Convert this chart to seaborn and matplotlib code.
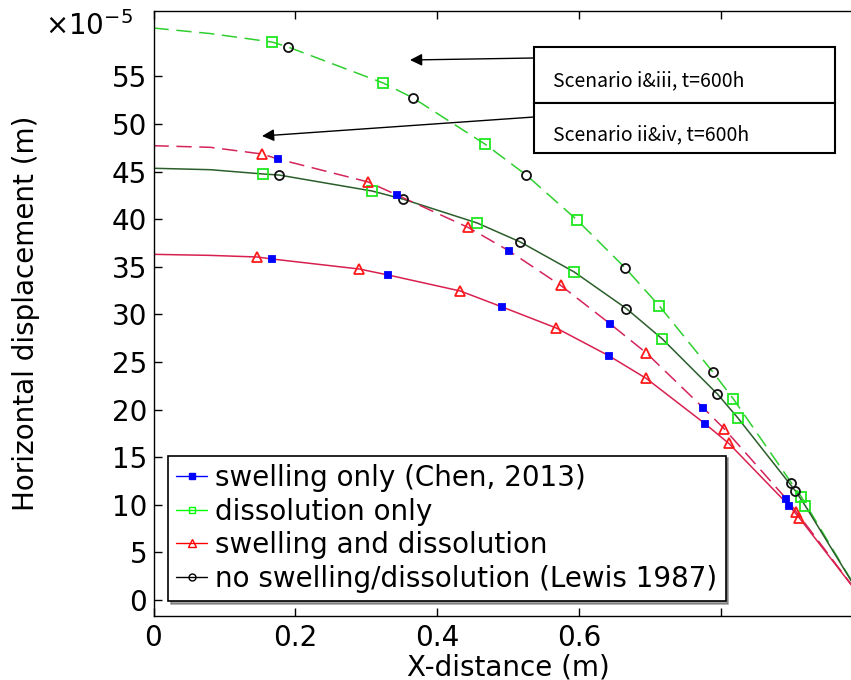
import matplotlib
matplotlib.use("Agg")
import matplotlib.pyplot as plt
from matplotlib.lines import Line2D
from matplotlib.patches import Rectangle
import numpy as np
import pandas as pd
import seaborn as sns

# ---------------- data (vertical values in units of 1e-5 m) ----------------
# Curve A: dashed, upper (dissolution only / no swelling)  -> Scenario i&iii
a_end_x = [0.0, 0.08, 1.0]
a_end_y = [60.08, 59.5, 0.0]
a_sq_x = [0.1671, 0.3237, 0.467, 0.5969, 0.7130, 0.8174, 0.9133]
a_sq_y = [58.61, 54.31, 47.90, 39.92, 30.88, 21.11, 10.82]
a_ci_x = [0.1897, 0.3660, 0.5254, 0.6650, 0.7884, 0.8992]
a_ci_y = [58.09, 52.73, 44.64, 34.87, 23.95, 12.29]

# Curve B: solid, dissolution only / no swelling
b_end_x = [0.0, 0.08, 1.0]
b_end_y = [45.35, 45.2, 0.0]
b_sq_x = [0.1544, 0.3082, 0.4563, 0.5931, 0.7172, 0.8237, 0.9189]
b_sq_y = [44.75, 42.96, 39.60, 34.45, 27.42, 19.12, 9.87]
b_ci_x = [0.1770, 0.3512, 0.5169, 0.6664, 0.7948, 0.9048]
b_ci_y = [44.64, 42.12, 37.61, 30.62, 21.64, 11.45]

# Curve C: dashed, swelling only / swelling and dissolution -> Scenario ii&iv
c_end_x = [0.0, 0.08, 1.0]
c_end_y = [47.72, 47.55, 0.0]
c_tr_x = [0.1530, 0.3025, 0.4436, 0.5740, 0.6946, 0.8047, 0.9062]
c_tr_y = [46.85, 43.91, 39.13, 33.04, 25.95, 17.96, 9.24]
c_bs_x = [0.1756, 0.3434, 0.5014, 0.6439, 0.7750, 0.8921]
c_bs_y = [46.32, 42.54, 36.66, 28.99, 20.17, 10.61]

# Curve D: solid, swelling only / swelling and dissolution
d_end_x = [0.0, 0.08, 1.0]
d_end_y = [36.31, 36.2, 0.0]
d_tr_x = [0.1460, 0.2898, 0.4323, 0.5677, 0.6946, 0.8110, 0.9104]
d_tr_y = [36.03, 34.77, 32.46, 28.57, 23.27, 16.44, 8.61]
d_bs_x = [0.1671, 0.3307, 0.4915, 0.6424, 0.7778, 0.8963]
d_bs_y = [35.82, 34.14, 30.78, 25.63, 18.49, 9.87]

legend_labels = ["swelling only (Chen, 2013)", "dissolution only",
                 "swelling and dissolution", "no swelling/dissolution (Lewis 1987)"]
x_ticks = [0.0, 0.2, 0.4, 0.6, 0.8, 1.0]
x_ticklabels = ["0", "0.2", "0.4", "0.6", "", ""]
y_ticks = [0, 5, 10, 15, 20, 25, 30, 35, 40, 45, 50, 55]
scenario_labels = ["Scenario i&iii, t=600h", "Scenario ii&iv, t=600h"]

# ---------------- style ----------------
sns.set_style("ticks")
plt.rcParams.update({
    "font.family": ["DejaVu Sans"],
    "axes.edgecolor": "black",
    "xtick.color": "black",
    "ytick.color": "black",
    "text.color": "black",
    "axes.labelcolor": "black",
    "axes.linewidth": 1.0,
})

GREEN_M = "#1fe81f"
BLUE_M = "#0000ff"
RED_M = "#ff1a1a"
BLACK_M = "#111111"

fig = plt.figure(figsize=(8.51, 6.8), dpi=100)
ax = fig.add_axes([153.5 / 851, (680 - 616) / 680, 709.5 / 851, 605 / 680])


def curve_df(*pairs):
    xs, ys = [], []
    for xx, yy in pairs:
        xs += list(xx)
        ys += list(yy)
    return pd.DataFrame({"x": xs, "y": ys}).sort_values("x")


lines = [
    (curve_df((a_end_x, a_end_y), (a_sq_x, a_sq_y), (a_ci_x, a_ci_y)), "#2fcf2f", (10, 5)),
    (curve_df((b_end_x, b_end_y), (b_sq_x, b_sq_y), (b_ci_x, b_ci_y)), "#2b5e2b", None),
    (curve_df((c_end_x, c_end_y), (c_tr_x, c_tr_y), (c_bs_x, c_bs_y)), "#d4245a", (10, 5)),
    (curve_df((d_end_x, d_end_y), (d_tr_x, d_tr_y), (d_bs_x, d_bs_y)), "#d8204f", None),
]
for df, col, dash in lines:
    kw = dict(x="x", y="y", data=df, color=col, linewidth=1.1, sort=True,
              estimator=None, ax=ax, legend=False)
    if dash is not None:
        kw["dashes"] = False
        kw["linestyle"] = (0, dash)
    sns.lineplot(**kw)


def markers(xs, ys, marker, color, ms, filled):
    sns.lineplot(x=xs, y=ys, ax=ax, linestyle="", marker=marker,
                 markersize=ms, markerfacecolor=(color if filled else "none"),
                 markeredgecolor=color, markeredgewidth=1.3, color=color,
                 estimator=None, sort=False, legend=False)


markers(a_sq_x, a_sq_y, "s", GREEN_M, 6.5, False)
markers(b_sq_x, b_sq_y, "s", GREEN_M, 6.5, False)
markers(a_ci_x, a_ci_y, "o", BLACK_M, 6.5, False)
markers(b_ci_x, b_ci_y, "o", BLACK_M, 6.5, False)
markers(c_tr_x, c_tr_y, "^", RED_M, 7.5, False)
markers(d_tr_x, d_tr_y, "^", RED_M, 7.5, False)
markers(c_bs_x, c_bs_y, "s", BLUE_M, 5, True)
markers(d_bs_x, d_bs_y, "s", BLUE_M, 5, True)

ax.set_xlim(0, 1.0)
ax.set_ylim(-1.68, 61.87)
ax.set_xticks(x_ticks)
ax.set_xticklabels(x_ticklabels)
ax.set_yticks(y_ticks)
ax.set_yticklabels([str(v) for v in y_ticks])
ax.tick_params(direction="in", length=6, width=1, top=True, right=True, labelsize=20)
ax.tick_params(axis="x", pad=6)
ax.tick_params(axis="y", pad=4.5)
for s in ax.spines.values():
    s.set_visible(True)
    s.set_color("black")

ax.set_xlabel("X-distance (m)", fontsize=20)
ax.set_ylabel("Horizontal displacement (m)", fontsize=20)
ax.xaxis.set_label_coords(0.5, -0.062)
ax.yaxis.set_label_coords(-0.160, 0.5)

fig.text(45 / 851, 1 - 35 / 680, r"$\times10^{-5}$", fontsize=20, ha="left", va="baseline")

handles = [
    Line2D([], [], color=BLUE_M, lw=1, marker="s", ms=4, mfc=BLUE_M, mec=BLUE_M),
    Line2D([], [], color="#00ff00", lw=1, marker="s", ms=5, mfc="none", mec="#00ff00", mew=1),
    Line2D([], [], color="#ff0000", lw=1, marker="^", ms=6, mfc="none", mec="#ff0000", mew=1),
    Line2D([], [], color="black", lw=1, marker="o", ms=5, mfc="none", mec="black", mew=1),
]
leg = ax.legend(handles, legend_labels, loc="lower left",
                bbox_to_anchor=((168 - 153.5) / 709.5, (616 - 601) / 605),
                borderaxespad=0, fontsize=20, frameon=True, fancybox=False,
                shadow=True, edgecolor="black", framealpha=1,
                handlelength=1.1, handletextpad=0.3, labelspacing=0.2,
                borderpad=0.3)
leg.get_frame().set_linewidth(1.2)

# Scenario boxes
for (y0, y1), lab, ty in zip([(47, 103), (103, 153)], scenario_labels, [80.5, 134.5]):
    fig.add_artist(Rectangle((534 / 851, 1 - y1 / 680), (835 - 534) / 851, (y1 - y0) / 680,
                             transform=fig.transFigure, facecolor="white",
                             edgecolor="black", lw=1.5, zorder=5))
    fig.text(553 / 851, 1 - ty / 680, lab, fontsize=14, ha="left", va="center",
             family=["Noto Sans CJK SC", "DejaVu Sans"], zorder=6)

# Arrows
ax.annotate("", xy=(410, 680 - 60), xycoords="figure pixels",
            xytext=(534, 680 - 58), textcoords="figure pixels",
            arrowprops=dict(arrowstyle="-|>", color="black", lw=1,
                            mutation_scale=18, shrinkA=0, shrinkB=0))
ax.annotate("", xy=(262, 680 - 136), xycoords="figure pixels",
            xytext=(534, 680 - 117), textcoords="figure pixels",
            arrowprops=dict(arrowstyle="-|>", color="black", lw=1,
                            mutation_scale=18, shrinkA=0, shrinkB=0))

fig.savefig("out.png", dpi=100)
